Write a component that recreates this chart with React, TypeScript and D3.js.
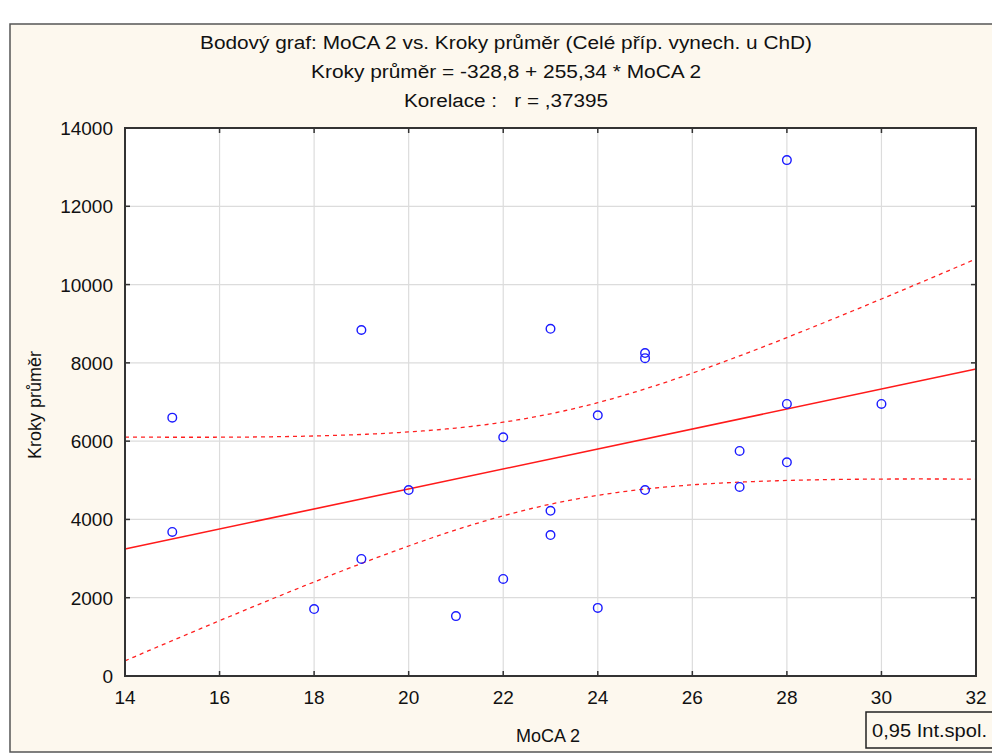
import React from "react";
import * as d3 from "d3";

const moca: number[] = [15, 15, 18, 19, 19, 20, 21, 22, 22, 23, 23, 23, 24, 24, 25, 25, 25, 27, 27, 28, 28, 28, 30];
const steps: number[] = [6600, 3680, 1710, 8840, 2990, 4750, 1530, 6100, 2480, 8870, 4220, 3600, 6660, 1740, 8250, 8120, 4750, 5750, 4830, 13180, 6950, 5460, 6950];
const xTicks: number[] = [14, 16, 18, 20, 22, 24, 26, 28, 30, 32];
const yTicks: number[] = [0, 2000, 4000, 6000, 8000, 10000, 12000, 14000];
const intercept = -328.8;
const slope = 255.34;
const titleLines: string[] = [
  "Bodový graf: MoCA 2 vs. Kroky průměr (Celé příp. vynech. u ChD)",
  "Kroky průměr = -328,8 + 255,34 * MoCA 2",
  "Korelace :\u00a0\u00a0\u00a0r = ,37395",
];
const titleWidths: number[] = [612, 390, 204];

const W = 992, H = 756;
const L = 125, R = 976, T = 128, B = 676;

export default function App() {
  const x = d3.scaleLinear().domain([14, 32]).range([L, R]);
  const y = d3.scaleLinear().domain([0, 14000]).range([B, T]);
  const n = moca.length;
  const mx = d3.mean(moca)!;
  const sxx = d3.sum(moca, (v) => (v - mx) ** 2);
  const sse = d3.sum(moca, (v, i) => (steps[i] - (intercept + slope * v)) ** 2);
  const s = Math.sqrt(sse / (n - 2));
  const tq = 2.08;
  const xs = d3.range(14, 32.001, 0.1);
  const band = (sign: number) =>
    d3.line<number>()
      .x((v) => x(v))
      .y((v) => y(intercept + slope * v + sign * tq * s * Math.sqrt(1 / n + (v - mx) ** 2 / sxx)))(xs)!;
  const font = "'Liberation Sans', Arial, sans-serif";
  return (
    <svg width={W} height={H} style={{ position: "absolute", left: 0, top: 0 }}>
      <rect x={0} y={0} width={W} height={H} fill="#ffffff" />
      <rect x={10} y={24} width={990} height={728} fill="#fdf8ee" stroke="#555" strokeWidth={1.5} />
      {titleLines.map((t, i) => (
        <text key={i} x={506} y={49 + i * 29} textAnchor="middle" fontFamily={font} fontSize={18}
          textLength={titleWidths[i]} lengthAdjust="spacingAndGlyphs" fill="#111">{t}</text>
      ))}
      <rect x={L} y={T} width={R - L} height={B - T} fill="#ffffff" />
      {xTicks.slice(1, -1).map((t) => (
        <line key={"gx" + t} x1={x(t)} x2={x(t)} y1={T} y2={B} stroke="#dcdcdc" strokeWidth={1.2} />
      ))}
      {yTicks.slice(1, -1).map((t) => (
        <line key={"gy" + t} x1={L} x2={R} y1={y(t)} y2={y(t)} stroke="#dcdcdc" strokeWidth={1.2} />
      ))}
      <path d={band(1)} fill="none" stroke="#ff2020" strokeWidth={1.3} strokeDasharray="4,4" />
      <path d={band(-1)} fill="none" stroke="#ff2020" strokeWidth={1.3} strokeDasharray="4,4" />
      <line x1={x(14)} x2={x(32)} y1={y(intercept + slope * 14)} y2={y(intercept + slope * 32)} stroke="#ff1a1a" strokeWidth={1.6} />
      {moca.map((v, i) => (
        <circle key={i} cx={x(v)} cy={y(steps[i])} r={4.3} fill="none" stroke="#1a1aff" strokeWidth={1.4} />
      ))}
      <rect x={L} y={T} width={R - L} height={B - T} fill="none" stroke="#333" strokeWidth={2} />
      {xTicks.map((t) => (
        <g key={"tx" + t}>
          <line x1={x(t)} x2={x(t)} y1={B} y2={B - 5} stroke="#333" strokeWidth={1.5} />
          <line x1={x(t)} x2={x(t)} y1={T} y2={T + 5} stroke="#333" strokeWidth={1.5} />
          <text x={x(t)} y={704} textAnchor="middle" fontFamily={font} fontSize={19} fill="#111">{t}</text>
        </g>
      ))}
      {yTicks.map((t) => (
        <g key={"ty" + t}>
          <line x1={L} x2={L + 5} y1={y(t)} y2={y(t)} stroke="#333" strokeWidth={1.5} />
          <line x1={R} x2={R - 5} y1={y(t)} y2={y(t)} stroke="#333" strokeWidth={1.5} />
          <text x={113} y={y(t) + 7} textAnchor="end" fontFamily={font} fontSize={19} fill="#111">{t}</text>
        </g>
      ))}
      <text x={548} y={742} textAnchor="middle" fontFamily={font} fontSize={18} fill="#111">MoCA 2</text>
      <text transform={`translate(41,405) rotate(-90)`} textAnchor="middle" fontFamily={font} fontSize={18} fill="#111">Kroky průměr</text>
      <rect x={866} y={712} width={130} height={36} fill="#fdf8ee" stroke="#222" strokeWidth={1.5} />
      <text x={872} y={737} fontFamily={font} fontSize={18} textLength={115} lengthAdjust="spacingAndGlyphs" fill="#111">0,95 Int.spol.</text>
    </svg>
  );
}
